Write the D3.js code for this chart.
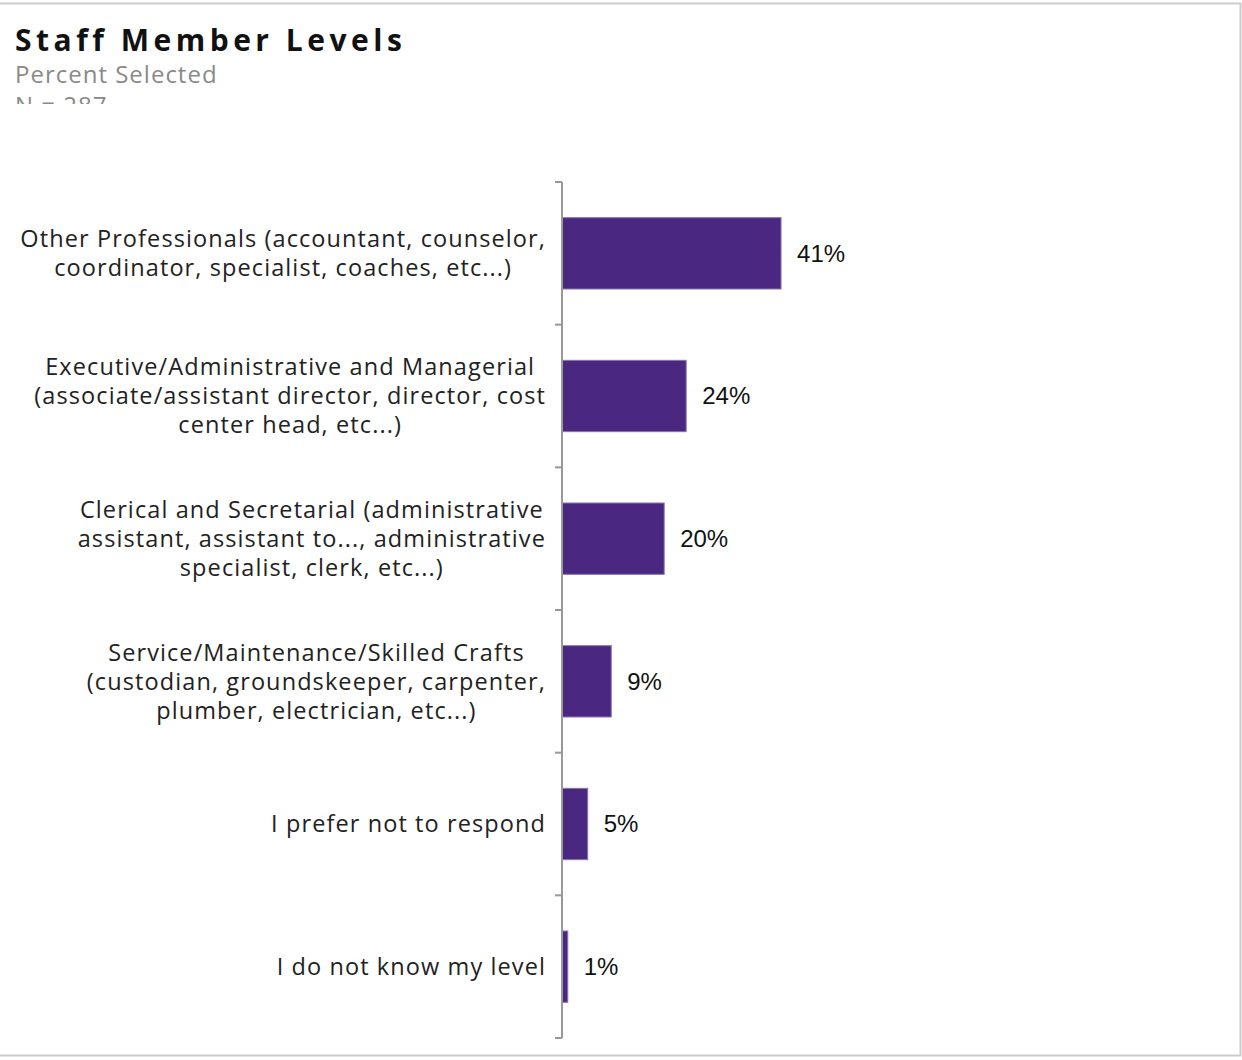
<!DOCTYPE html>
<html><head><meta charset="utf-8">
<script src="https://cdn.jsdelivr.net/npm/d3@7"></script>
<style>
html,body{margin:0;padding:0;background:#fff;}
svg{display:block;}
</style></head>
<body>
<svg id="chart" width="1242" height="1060"></svg>
<script>
const title = "Staff Member Levels";
const subtitle = "Percent Selected";
const nLabel = "N = 287";
const categories = [
  "Other Professionals (accountant, counselor, coordinator, specialist, coaches, etc...)",
  "Executive/Administrative and Managerial (associate/assistant director, director, cost center head, etc...)",
  "Clerical and Secretarial (administrative assistant, assistant to..., administrative specialist, clerk, etc...)",
  "Service/Maintenance/Skilled Crafts (custodian, groundskeeper, carpenter, plumber, electrician, etc...)",
  "I prefer not to respond",
  "I do not know my level"
];
const values = [41.8, 23.7, 19.5, 9.4, 4.9, 1.1];
const valueLabels = ["41%", "24%", "20%", "9%", "5%", "1%"];

const svg = d3.select("#chart");
// frame
svg.append("rect").attr("x", -2).attr("y", 3.5).attr("width", 1242.5).attr("height", 1052)
  .attr("fill", "none").attr("stroke", "#cccccc").attr("stroke-width", 2);

svg.append("text").attr("x", 15).attr("y", 51).text(title)
  .attr("font-family", "'Open Sans', sans-serif").attr("font-weight", "bold")
  .attr("font-size", 30).attr("letter-spacing", 4.5).attr("fill", "#111");
svg.append("text").attr("x", 15).attr("y", 83).text(subtitle)
  .attr("font-family", "'Open Sans', sans-serif").attr("font-size", 24).attr("letter-spacing", 1)
  .attr("fill", "#8a8a8a");
svg.append("clipPath").attr("id", "nclip").append("rect").attr("x", 0).attr("y", 92).attr("width", 400).attr("height", 12);
svg.append("text").attr("x", 15).attr("y", 114).text(nLabel).attr("clip-path", "url(#nclip)")
  .attr("font-family", "'Open Sans', sans-serif").attr("font-size", 24).attr("letter-spacing", 1)
  .attr("fill", "#8a8a8a");

const x0 = 562, yTop = 182, yBot = 1038;
const y = d3.scaleBand().domain(categories).range([yTop, yBot]).paddingInner(0.5).paddingOuter(0.25);
const x = d3.scaleLinear().domain([0, 100]).range([x0, x0 + 524]);

const g = svg.append("g");
g.selectAll("rect.bar").data(values).join("rect").attr("class", "bar")
  .attr("x", x(0)).attr("y", (d, i) => y(categories[i]))
  .attr("width", d => x(d) - x(0)).attr("height", y.bandwidth())
  .attr("fill", "#4a2882").attr("stroke", "#8a74b0").attr("stroke-width", 1);

g.selectAll("text.val").data(values).join("text").attr("class", "val")
  .attr("x", d => x(d) + 16).attr("y", (d, i) => y(categories[i]) + y.bandwidth() / 2)
  .attr("dy", "0.35em").text((d, i) => valueLabels[i])
  .attr("font-family", "'Liberation Sans', Arial, sans-serif").attr("font-size", 24).attr("fill", "#111");

// axis
const band = (yBot - yTop) / categories.length;
const ticks = d3.range(categories.length + 1).map(i => yTop + i * band);
g.append("line").attr("x1", x0).attr("x2", x0).attr("y1", yTop).attr("y2", yBot)
  .attr("stroke", "#999").attr("stroke-width", 2);
g.selectAll("line.tick").data(ticks).join("line").attr("class", "tick")
  .attr("x1", x0 - 7).attr("x2", x0).attr("y1", d => d).attr("y2", d => d)
  .attr("stroke", "#999").attr("stroke-width", 2);

// labels
const labelRight = 546, maxW = 532, lh = 29;
categories.forEach((c, i) => {
  const cy = y(c) + y.bandwidth() / 2;
  const t = g.append("text").attr("font-family", "'Open Sans', sans-serif")
    .attr("font-size", 23.5).attr("letter-spacing", 1.1).attr("fill", "#222").attr("text-anchor", "middle");
  const words = c.split(" ");
  const lines = [];
  let cur = [];
  const probe = t.append("tspan");
  words.forEach(w => {
    const test = cur.concat([w]).join(" ");
    probe.text(test);
    if (probe.node().getComputedTextLength() > maxW && cur.length) {
      lines.push(cur.join(" ")); cur = [w];
    } else cur.push(w);
  });
  lines.push(cur.join(" "));
  let widest = 0;
  lines.forEach(l => { probe.text(l); widest = Math.max(widest, probe.node().getComputedTextLength()); });
  probe.remove();
  const cx = labelRight - widest / 2;
  lines.forEach((l, k) => {
    t.append("tspan").attr("x", cx).attr("y", cy + (k - (lines.length - 1) / 2) * lh)
      .attr("dy", "0.35em").text(l);
  });
});
</script>
</body></html>
